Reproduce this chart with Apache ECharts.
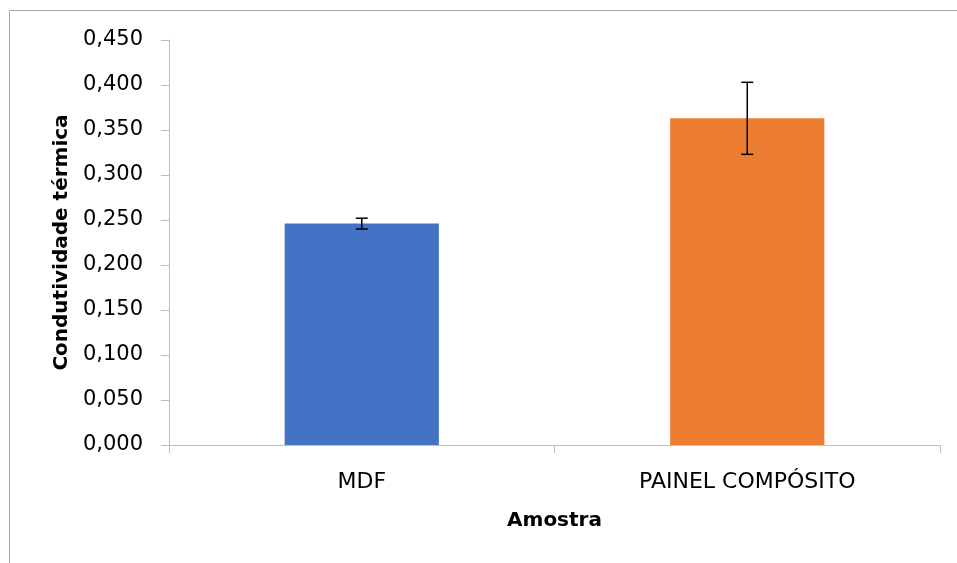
<!DOCTYPE html>
<html><head><meta charset="utf-8">
<script src="https://cdn.jsdelivr.net/npm/echarts@6/dist/echarts.min.js"></script>
<style>html,body{margin:0;padding:0;background:#fff}#c{width:957px;height:563px}</style>
</head><body><div id="c"></div>
<script>
const categories = ['MDF', 'PAINEL COMPÓSITO'];
const values = [0.246, 0.363];
const errors = [0.006, 0.040];
const colors = ['#4472C4', '#ED7D31'];
const yTicks = [0, 0.05, 0.1, 0.15, 0.2, 0.25, 0.3, 0.35, 0.4, 0.45];

const FONT = '"DejaVu Sans", "Liberation Sans", sans-serif';
const chart = echarts.init(document.getElementById('c'));
chart.setOption({
  animation: false,
  graphic: [{type: 'rect', shape: {x: 9.5, y: 10.5, width: 1000, height: 600}, style: {fill: 'none', stroke: '#a6a6a6', lineWidth: 1}, z: -1}],
  grid: {left: 169, right: 17, top: 40, bottom: 118},
  xAxis: {
    type: 'category', data: categories,
    name: 'Amostra', nameLocation: 'middle', nameGap: 66,
    nameTextStyle: {fontFamily: FONT, fontSize: 20, fontWeight: 'bold', color: '#000'},
    axisLine: {lineStyle: {color: '#bfbfbf', width: 1}},
    axisTick: {show: true, length: 8, lineStyle: {color: '#bfbfbf'}},
    axisLabel: {fontFamily: FONT, fontSize: 22, color: '#000', margin: 26}
  },
  yAxis: {
    type: 'value', min: 0, max: 0.45, interval: 0.05,
    name: 'Condutividade térmica', nameLocation: 'middle', nameGap: 96,
    nameTextStyle: {fontFamily: FONT, fontSize: 20, fontWeight: 'bold', color: '#000'},
    axisLine: {show: true, lineStyle: {color: '#bfbfbf', width: 1}},
    axisTick: {show: true, length: 8, lineStyle: {color: '#bfbfbf'}},
    splitLine: {show: false},
    axisLabel: {fontFamily: FONT, fontSize: 21, color: '#000', margin: 26,
      formatter: v => v.toFixed(3).replace('.', ',')}
  },
  series: [
    {type: 'bar', barWidth: '40%',
     data: values.map((v, i) => ({value: v, itemStyle: {color: colors[i]}}))},
    {type: 'custom', z: 10,
     data: values.map((v, i) => [i, v - errors[i], v + errors[i]]),
     renderItem: (params, api) => {
       const lo = api.coord([api.value(0), api.value(1)]);
       const hi = api.coord([api.value(0), api.value(2)]);
       const hw = 6;
       const st = {stroke: '#000', lineWidth: 1.5};
       return {type: 'group', children: [
         {type: 'line', shape: {x1: hi[0], y1: hi[1], x2: lo[0], y2: lo[1]}, style: st},
         {type: 'line', shape: {x1: hi[0]-hw, y1: hi[1], x2: hi[0]+hw, y2: hi[1]}, style: st},
         {type: 'line', shape: {x1: lo[0]-hw, y1: lo[1], x2: lo[0]+hw, y2: lo[1]}, style: st}
       ]};
     }}
  ]
});
</script></body></html>
